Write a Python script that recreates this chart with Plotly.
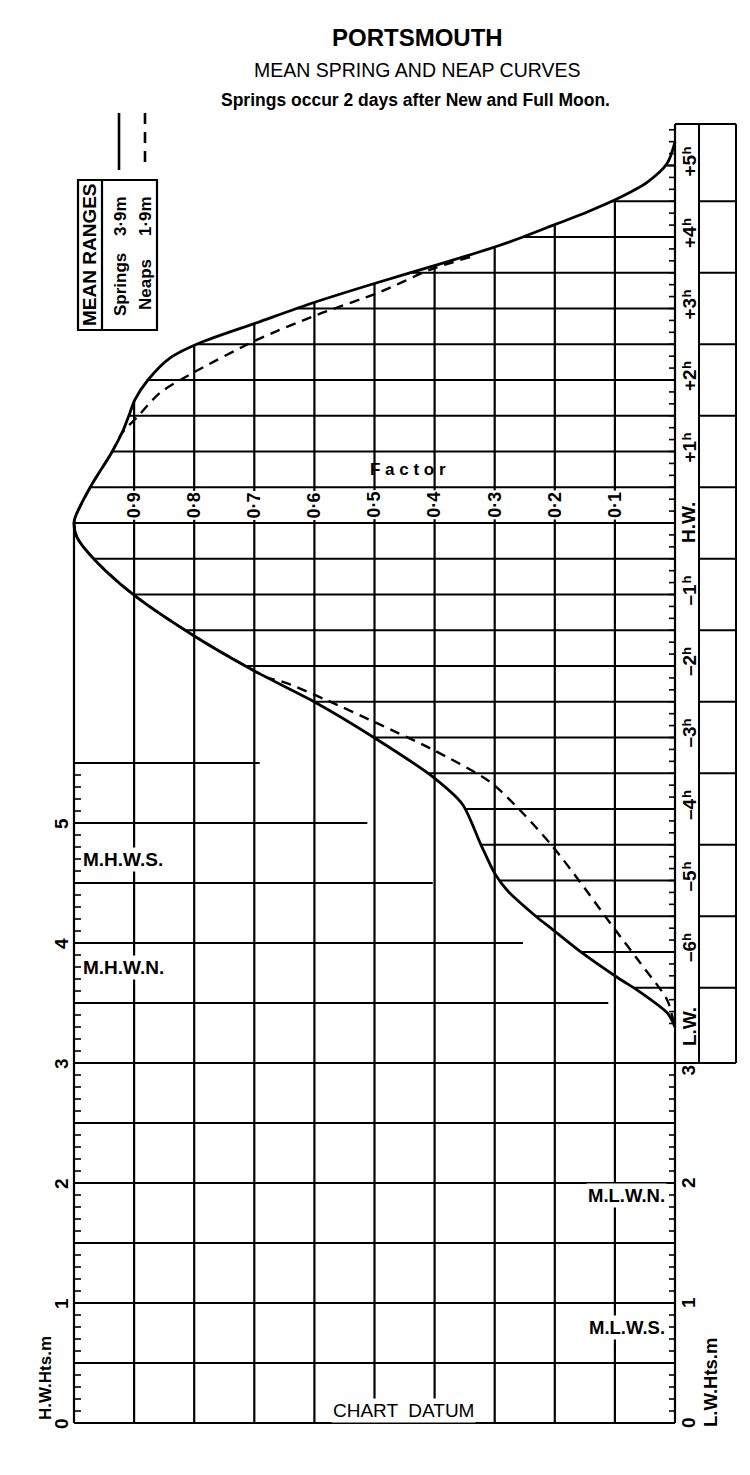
import numpy as np
import plotly.graph_objects as go

# ---------------- data ----------------
TITLE = "PORTSMOUTH"
SUBTITLE = "MEAN SPRING AND NEAP CURVES"
NOTE = "Springs occur 2 days after New and Full Moon."

# Spring curve (solid): time from HW (hours, + after HW) and factor
spring_t = [5.33, 5.03, 4.76, 4.53, 4.35, 4.18, 4.00, 3.86, 3.61, 3.36, 3.08, 2.80,
            2.52, 2.31, 2.00, 1.72, 1.54, 1.30, 0.99, 0.50, 0.08, 0.00,
            -0.20, -0.52, -1.01, -1.57, -2.06, -2.52, -3.01, -3.55, -3.93, -4.48,
            -4.90, -5.13, -5.51, -5.69, -6.01, -6.35, -6.56, -6.85, -6.99, -7.05]
spring_f = [0.000, 0.013, 0.047, 0.097, 0.146, 0.198, 0.253, 0.300, 0.396, 0.496, 0.602, 0.696,
            0.790, 0.840, 0.877, 0.899, 0.907, 0.918, 0.937, 0.973, 0.998, 1.000,
            0.995, 0.965, 0.900, 0.802, 0.702, 0.596, 0.499, 0.403, 0.354, 0.324,
            0.300, 0.280, 0.230, 0.203, 0.155, 0.097, 0.058, 0.013, 0.003, 0.000]

# Neap curve (dashed)
neap_t = [3.72, 3.54, 3.23, 2.91, 2.56, 2.10, 1.82, 1.48, 1.26, 0.99, 0.50, 0.08, 0.00,
          -0.20, -0.52, -1.01, -1.57, -2.06, -2.15, -2.24, -2.48, -2.80, -3.17, -3.62,
          -4.06, -4.53, -5.02, -5.65, -6.15, -6.67, -6.95, -7.05]
neap_f = [0.341, 0.408, 0.491, 0.596, 0.696, 0.802, 0.857, 0.895, 0.920, 0.937, 0.973, 0.998, 1.000,
          0.995, 0.965, 0.900, 0.802, 0.702, 0.682, 0.646, 0.579, 0.496, 0.403, 0.308,
          0.253, 0.203, 0.158, 0.103, 0.058, 0.013, 0.003, 0.000]

LW_TIME = -7.05

# factor grid
factor_values = [0.9, 0.8, 0.7, 0.6, 0.5, 0.4, 0.3, 0.2, 0.1]
factor_labels = ["0·9", "0·8", "0·7", "0·6", "0·5", "0·4", "0·3", "0·2", "0·1"]

# time labels (hour number; the small "h" is drawn as a raised suffix)
hour_values = [5, 4, 3, 2, 1, 0, -1, -2, -3, -4, -5, -6]
hour_labels = ["+5", "+4", "+3", "+2", "+1", "H.W.", "–1", "–2", "–3", "–4", "–5", "–6"]
hour_suffix = ["h", "h", "h", "h", "h", "", "h", "h", "h", "h", "h", "h"]

# height lines (m) and the factor at which each one stops
height_lines_m = [0.0, 0.5, 1.0, 1.5, 2.0, 2.5, 3.0, 3.5, 4.0, 4.5, 5.0, 5.5]
height_line_end_f = [0.0, 0.0, 0.0, 0.0, 0.0, 0.0, 0.0, 0.111, 0.253, 0.403, 0.512, 0.691]

hw_height_labels = [0, 1, 2, 3, 4, 5]
lw_height_labels = [0, 1, 2, 3]

hw_level_names = ["M.H.W.S.", "M.H.W.N."]
hw_level_m = [4.7, 3.8]
lw_level_names = ["M.L.W.N.", "M.L.W.S."]
lw_level_m = [1.9, 0.8]

range_names = ["Springs", "Neaps"]
range_values = ["3·9m", "1·9m"]

# ---------------- layout / scales ----------------
W, H = 750, 1475
F_PX0, F_PX_PER = 675.0, 601.0      # factor 0 position, px per factor unit
T_PX0, T_PX_PER = 523.0, 71.5       # HW position, px per hour
H_PX0, H_PX_PER = 1423.0, 120.0     # chart datum position, px per metre

x_range = [F_PX0 / F_PX_PER, (F_PX0 - W) / F_PX_PER]
t_range = [(T_PX0 - H) / T_PX_PER, T_PX0 / T_PX_PER]
h_range = [(H_PX0 - H) / H_PX_PER, H_PX0 / H_PX_PER]


def h_to_t(h):
    frac = (h - h_range[0]) / (h_range[1] - h_range[0])
    return t_range[0] + frac * (t_range[1] - t_range[0])


def t_to_paper(t):
    return (t - t_range[0]) / (t_range[1] - t_range[0])


def f_to_paper(f):
    return (f - x_range[0]) / (x_range[1] - x_range[0])


def xpx(px):
    return (F_PX0 - px) / F_PX_PER


def tpx(py):
    return (T_PX0 - py) / T_PX_PER


def fpx_len(n):
    return n / F_PX_PER


def px2paper(px, py):
    return px / W, 1 - py / H


BOX_TOP_T = tpx(124)
COL1_F = xpx(699)
COL2_F = xpx(736)

st = np.array(spring_t)
sf = np.array(spring_f)
up = st >= 0
dn = st <= 0
up_t, up_f = st[up], sf[up]
dn_t, dn_f = st[dn], sf[dn]


def curve_f_at(t):
    if t > 0:
        return float(np.interp(t, up_t[::-1], up_f[::-1]))
    if t == 0:
        return 1.0
    return float(np.interp(t, dn_t[::-1], dn_f[::-1]))


def top_t_at(f):
    return float(np.interp(f, up_f, up_t))


fig = go.Figure()


def add_segments(segs, yaxis="y", width=2.0, dash=None):
    xs, ys = [], []
    for x0, y0, x1, y1 in segs:
        xs += [x0, x1, None]
        ys += [y0, y1, None]
    fig.add_trace(go.Scatter(x=xs, y=ys, mode="lines", yaxis=yaxis,
                             line=dict(color="black", width=width, dash=dash),
                             hoverinfo="skip", showlegend=False))


T_DATUM = h_to_t(0.0)
GRID_W = 2.2

# vertical factor lines
segs = [(f, top_t_at(f), f, T_DATUM) for f in factor_values]
segs.append((1.0, 0.0, 1.0, T_DATUM))
segs.append((0.0, BOX_TOP_T, 0.0, T_DATUM))
add_segments(segs, width=GRID_W)

# horizontal time lines every half hour from the spring curve to factor 0
segs = []
for t in np.arange(-6.5, 5.01, 0.5):
    segs.append((curve_f_at(float(t)), float(t), 0.0, float(t)))
add_segments(segs, width=GRID_W)

# height lines
segs = [(1.0, h, e, h) for h, e in zip(height_lines_m, height_line_end_f)]
add_segments(segs, yaxis="y2", width=GRID_W)

# height ticks (every 0.1 m)
segs = [(1.0, h, 1.0 - fpx_len(7), h) for h in np.round(np.arange(0, 5.51, 0.1), 2)]
add_segments(segs, yaxis="y2", width=1.6)
segs = [(0.0, h, fpx_len(6), h) for h in np.round(np.arange(0, 3.01, 0.1), 2)]
add_segments(segs, yaxis="y2", width=1.6)

# time ticks (every 10 minutes)
segs = [(0.0, t, fpx_len(6), t) for t in np.arange(-7.0, 5.51, 1 / 6)]
add_segments(segs, width=1.6)

# time label box on the right
segs = [(COL1_F, BOX_TOP_T, COL1_F, h_to_t(3.0)),
        (COL2_F, BOX_TOP_T, COL2_F, h_to_t(3.0)),
        (0.0, BOX_TOP_T, COL2_F, BOX_TOP_T),
        (0.0, h_to_t(3.0), COL2_F, h_to_t(3.0))]
for t in np.arange(-6.5, 4.51, 1.0):
    segs.append((COL1_F, float(t), COL2_F, float(t)))
add_segments(segs, width=2.0)

# curves
fig.add_trace(go.Scatter(x=neap_f, y=neap_t, mode="lines",
                         line=dict(color="black", width=2.4, dash="10px,7px", shape="spline", smoothing=0.8),
                         hoverinfo="skip", showlegend=False))
fig.add_trace(go.Scatter(x=spring_f, y=spring_t, mode="lines",
                         line=dict(color="black", width=2.8, shape="spline", smoothing=0.8),
                         hoverinfo="skip", showlegend=False))

# legend sample lines
add_segments([(xpx(119), tpx(113), xpx(119), tpx(170))], width=2.6)
add_segments([(xpx(145), tpx(113), xpx(145), tpx(170))], width=2.6, dash="11px,8px")

# ---------------- annotations ----------------
FONT = "Liberation Sans, Arial, Helvetica, sans-serif"
anns = []


def ann(text, x, y, xref="paper", yref="paper", size=18, angle=0, xanchor="center",
        yanchor="middle", bg=None, bold=True, xshift=0, yshift=0):
    d = dict(text=("<b>%s</b>" % text) if bold else text, x=x, y=y, xref=xref, yref=yref,
             showarrow=False, textangle=angle, xanchor=xanchor, yanchor=yanchor,
             font=dict(family=FONT, size=size, color="black"), borderpad=1,
             xshift=xshift, yshift=yshift)
    if bg:
        d["bgcolor"] = bg
    anns.append(d)


def pann(text, px, py, **kw):
    x, y = px2paper(px, py)
    ann(text, x, y, **kw)


pann(TITLE, 417, 37, size=24)
pann(SUBTITLE, 417, 70, size=19.5, bold=False)
pann(NOTE, 415, 100, size=17.5)

# mean ranges box
pann("MEAN RANGES", 90, 255, size=19, angle=-90)
for name, val, px in zip(range_names, range_values, [120, 145]):
    pann(name, px, 285, size=17, angle=-90)
    pann(val, px, 216, size=17, angle=-90)

# factor labels (placed a quarter hour above HW)
for f, lab in zip(factor_values, factor_labels):
    ann(lab, f_to_paper(f), t_to_paper(0.25), size=18, angle=-90, bg="white")
pann("F a c t o r", 408, 470, size=17)

# time labels
LBL_SIZE = 19
for hv, lab, suf in zip(hour_values, hour_labels, hour_suffix):
    ann(lab, 689 / W, t_to_paper(hv), size=LBL_SIZE, angle=-90)
    if suf:
        ann(suf, 689 / W, t_to_paper(hv), size=13, angle=-90, xshift=-3, yshift=15)
ann("L.W.", 689 / W, t_to_paper(LW_TIME), size=LBL_SIZE, angle=-90)

# height labels
for hv in hw_height_labels:
    ann(str(hv), 61 / W, hv, yref="y2", size=19, angle=-90)
for hv in lw_height_labels:
    ann(str(hv), 688 / W, hv, yref="y2", size=19, angle=-90,
        yanchor="top" if hv == 3 else "middle")
pann("H.W.Hts.m", 45, 1378, size=17, angle=-90)
pann("L.W.Hts.m", 710, 1383, size=18.5, angle=-90)

for name, hv in zip(hw_level_names, hw_level_m):
    ann(name, 81 / W, hv, yref="y2", size=19, xanchor="left", bg="white")
for name, hv in zip(lw_level_names, lw_level_m):
    ann(name, 667 / W, hv, yref="y2", size=18.5, xanchor="right", bg="white")

pann("CHART  DATUM", 403, 1410, size=19, bold=False, bg="white")

# mean ranges box shapes
shapes = []
x0, y0 = px2paper(78, 180)
x1, y1 = px2paper(157, 330)
shapes.append(dict(type="rect", xref="paper", yref="paper", x0=x0, y0=y0, x1=x1, y1=y1,
                   line=dict(color="black", width=2.2)))
xd, _ = px2paper(102, 0)
shapes.append(dict(type="line", xref="paper", yref="paper", x0=xd, y0=y0, x1=xd, y1=y1,
                   line=dict(color="black", width=2.2)))

fig.update_layout(
    width=W, height=H, autosize=False,
    margin=dict(l=0, r=0, t=0, b=0, pad=0),
    paper_bgcolor="white", plot_bgcolor="white",
    xaxis=dict(range=x_range, visible=False, fixedrange=True),
    yaxis=dict(range=t_range, visible=False, fixedrange=True),
    yaxis2=dict(range=h_range, visible=False, overlaying="y", fixedrange=True),
    annotations=anns, shapes=shapes, showlegend=False,
)

fig.write_html("out.html", config={"displayModeBar": False},
               post_script="document.body.style.margin='0px';")
